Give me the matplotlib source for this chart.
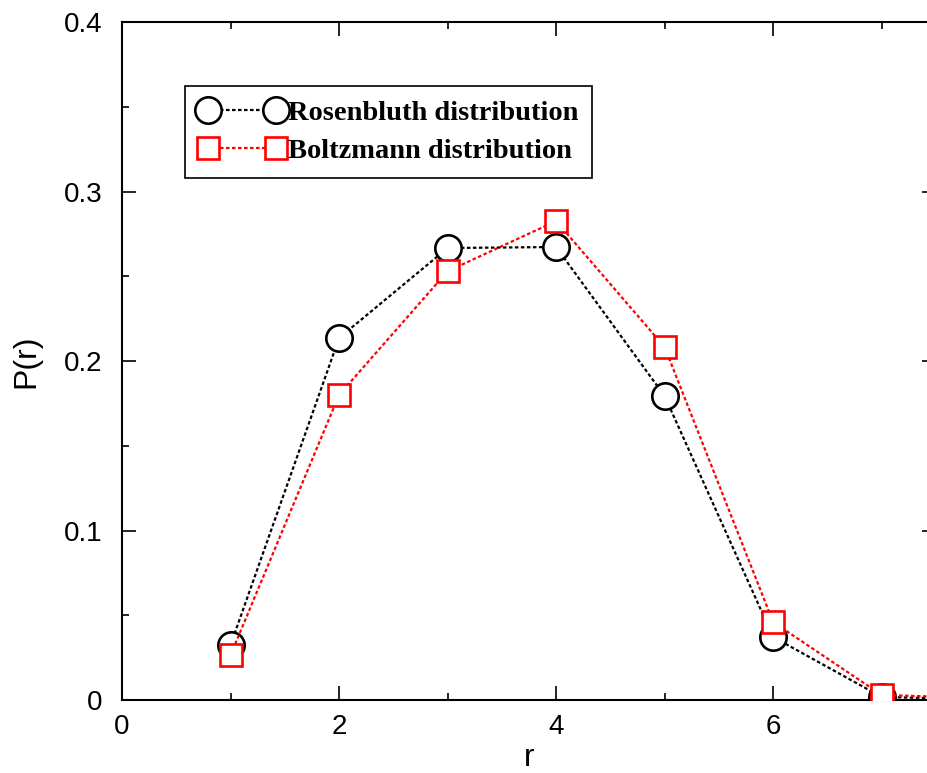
import numpy as np
import matplotlib
matplotlib.use("Agg")
import matplotlib.pyplot as plt
from matplotlib.ticker import MultipleLocator

r = [1, 2, 3, 4, 5, 6, 7, 8]
p_rosen = [0.0324, 0.2136, 0.2667, 0.2673, 0.1794, 0.0372, 0.0018, 0.0003]
p_boltz = [0.0265, 0.1800, 0.2530, 0.2826, 0.2083, 0.0460, 0.0030, 0.0010]

plt.rcParams['font.family'] = ['Liberation Sans', 'DejaVu Sans']

fig = plt.figure(figsize=(9.28, 7.73), dpi=100)
ax = fig.add_axes([0.1315, 0.0944, 0.877, 0.877])

ax.plot(r, p_rosen, color='black', ls=(0, (1.6, 1.1)), lw=1.6,
        marker='o', ms=19, mfc='white', mec='black', mew=1.9,
        label='Rosenbluth distribution', zorder=3)
ax.plot(r, p_boltz, color='red', ls=(0, (1.6, 1.1)), lw=1.6,
        marker='s', ms=16.5, mfc='white', mec='red', mew=1.9,
        label='Boltzmann distribution', zorder=4)

ax.set_xlim(0, 7.5)
ax.set_ylim(0, 0.4)
ax.xaxis.set_major_locator(MultipleLocator(2))
ax.xaxis.set_minor_locator(MultipleLocator(1))
ax.yaxis.set_major_locator(MultipleLocator(0.1))
ax.yaxis.set_minor_locator(MultipleLocator(0.05))
ax.tick_params(which='both', direction='in', top=True, right=True,
               labelsize=20, width=1.2)
ax.tick_params(axis='x', pad=10)
ax.tick_params(axis='y', pad=14)
ax.tick_params(which='major', length=10)
ax.tick_params(which='minor', length=5)
ax.yaxis.set_major_formatter(plt.FuncFormatter(lambda v, p: '0' if v == 0 else '%.1f' % v))
for s in ax.spines.values():
    s.set_linewidth(1.5)

ax.set_xlabel('r', fontsize=23, labelpad=2)
ax.set_ylabel('P(r)', fontsize=23, labelpad=16)

leg = ax.legend(loc='upper left', bbox_to_anchor=(0.0774, 0.9056), borderaxespad=0,
                numpoints=2, handlelength=3.0, handletextpad=0.1, borderpad=0.5,
                labelspacing=0.42, fancybox=False, edgecolor='black',
                framealpha=1,
                prop={'family': 'Liberation Serif', 'weight': 'bold', 'size': 20.5})
leg.get_frame().set_linewidth(1.2)

fig.savefig('out.png', dpi=100)
